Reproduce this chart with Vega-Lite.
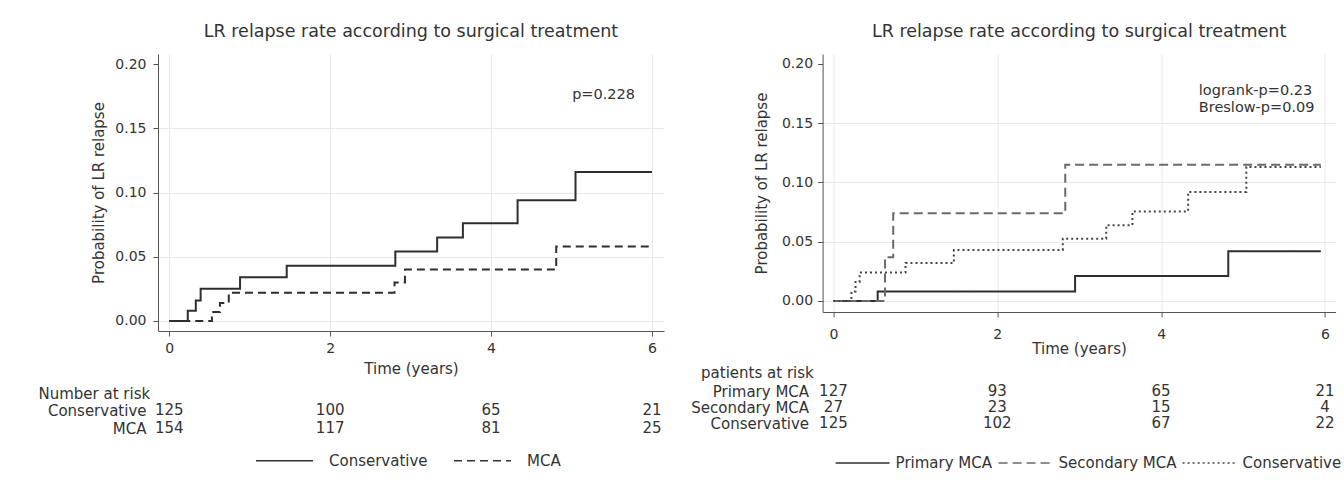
{
  "$schema": "https://vega.github.io/schema/vega-lite/v6.json",
  "background": "white",
  "padding": {"left": 38, "top": 22, "right": 5, "bottom": 5},
  "config": {
    "font": "DejaVu Sans",
    "view": {"stroke": null},
    "axis": {
      "labelColor": "#333333",
      "titleColor": "#333333",
      "domainColor": "#555555",
      "tickColor": "#555555",
      "labelFontSize": 14,
      "titleFontSize": 15,
      "titleFontWeight": "normal",
      "gridColor": "#e8e8e8",
      "tickSize": 5
    },
    "title": {"fontSize": 17.5, "fontWeight": "normal", "color": "#333333"},
    "legend": {"labelColor": "#333333", "labelFontSize": 15}
  },
  "datasets": {
    "left_curves": [
      {"group": "Conservative", "time": 0, "prob": 0},
      {"group": "Conservative", "time": 0.23, "prob": 0.008},
      {"group": "Conservative", "time": 0.33, "prob": 0.016},
      {"group": "Conservative", "time": 0.39, "prob": 0.025},
      {"group": "Conservative", "time": 0.88, "prob": 0.034},
      {"group": "Conservative", "time": 1.46, "prob": 0.043},
      {"group": "Conservative", "time": 2.81, "prob": 0.054},
      {"group": "Conservative", "time": 3.33, "prob": 0.065},
      {"group": "Conservative", "time": 3.65, "prob": 0.076},
      {"group": "Conservative", "time": 4.33, "prob": 0.094},
      {"group": "Conservative", "time": 5.05, "prob": 0.116},
      {"group": "Conservative", "time": 6.0, "prob": 0.116},
      {"group": "MCA", "time": 0, "prob": 0},
      {"group": "MCA", "time": 0.53, "prob": 0.007},
      {"group": "MCA", "time": 0.63, "prob": 0.014},
      {"group": "MCA", "time": 0.74, "prob": 0.022},
      {"group": "MCA", "time": 2.8, "prob": 0.03},
      {"group": "MCA", "time": 2.93, "prob": 0.04},
      {"group": "MCA", "time": 4.81, "prob": 0.058},
      {"group": "MCA", "time": 5.97, "prob": 0.058}
    ],
    "left_risk": [
      {"group": "Conservative", "time": 0, "n": 125},
      {"group": "Conservative", "time": 2, "n": 100},
      {"group": "Conservative", "time": 4, "n": 65},
      {"group": "Conservative", "time": 6, "n": 21},
      {"group": "MCA", "time": 0, "n": 154},
      {"group": "MCA", "time": 2, "n": 117},
      {"group": "MCA", "time": 4, "n": 81},
      {"group": "MCA", "time": 6, "n": 25}
    ],
    "left_notes": [
      {"time": 5.79, "prob": 0.176, "label": "p=0.228"}
    ],
    "right_curves": [
      {"group": "Primary MCA", "time": 0, "prob": 0},
      {"group": "Primary MCA", "time": 0.54, "prob": 0.008},
      {"group": "Primary MCA", "time": 2.95, "prob": 0.021},
      {"group": "Primary MCA", "time": 4.82, "prob": 0.042},
      {"group": "Primary MCA", "time": 5.95, "prob": 0.042},
      {"group": "Secondary MCA", "time": 0, "prob": 0},
      {"group": "Secondary MCA", "time": 0.63, "prob": 0.037},
      {"group": "Secondary MCA", "time": 0.73, "prob": 0.074},
      {"group": "Secondary MCA", "time": 2.83, "prob": 0.115},
      {"group": "Secondary MCA", "time": 5.95, "prob": 0.115},
      {"group": "Conservative", "time": 0, "prob": 0},
      {"group": "Conservative", "time": 0.22, "prob": 0.008},
      {"group": "Conservative", "time": 0.27, "prob": 0.016},
      {"group": "Conservative", "time": 0.32, "prob": 0.024},
      {"group": "Conservative", "time": 0.88, "prob": 0.032},
      {"group": "Conservative", "time": 1.47, "prob": 0.043},
      {"group": "Conservative", "time": 2.8, "prob": 0.0525},
      {"group": "Conservative", "time": 3.33, "prob": 0.064},
      {"group": "Conservative", "time": 3.65, "prob": 0.0756},
      {"group": "Conservative", "time": 4.33, "prob": 0.092},
      {"group": "Conservative", "time": 5.04, "prob": 0.113},
      {"group": "Conservative", "time": 5.95, "prob": 0.113}
    ],
    "right_risk": [
      {"group": "Primary MCA", "time": 0, "n": 127},
      {"group": "Primary MCA", "time": 2, "n": 93},
      {"group": "Primary MCA", "time": 4, "n": 65},
      {"group": "Primary MCA", "time": 6, "n": 21},
      {"group": "Secondary MCA", "time": 0, "n": 27},
      {"group": "Secondary MCA", "time": 2, "n": 23},
      {"group": "Secondary MCA", "time": 4, "n": 15},
      {"group": "Secondary MCA", "time": 6, "n": 4},
      {"group": "Conservative", "time": 0, "n": 125},
      {"group": "Conservative", "time": 2, "n": 102},
      {"group": "Conservative", "time": 4, "n": 67},
      {"group": "Conservative", "time": 6, "n": 22}
    ],
    "right_notes": [
      {"time": 4.46, "prob": 0.1775, "label": "logrank-p=0.23"},
      {"time": 4.46, "prob": 0.163, "label": "Breslow-p=0.09"}
    ]
  },
  "hconcat": [
    {
      "vconcat": [
        {
          "width": 506,
          "height": 277,
          "title": {"text": "LR relapse rate according to surgical treatment", "offset": 14},
          "layer": [
            {
              "data": {"name": "left_curves"},
              "mark": {"type": "line", "interpolate": "step-after", "strokeWidth": 2, "color": "#2e2e2e"},
              "encoding": {
                "x": {
                  "field": "time", "type": "quantitative",
                  "scale": {"domain": [-0.14, 6.15], "nice": false, "zero": false},
                  "axis": {"values": [0, 2, 4, 6], "format": "d", "title": "Time (years)", "labelPadding": 5, "titlePadding": 6}
                },
                "y": {
                  "field": "prob", "type": "quantitative",
                  "scale": {"domain": [-0.0078, 0.2078], "nice": false, "zero": false},
                  "axis": {
                    "values": [0, 0.05, 0.1, 0.15, 0.2], "format": ".2f",
                    "title": "Probability of LR relapse", "labelPadding": 7, "titlePadding": 8,
                    "grid": true,
                    "gridOpacity": {"condition": {"test": "datum.value > 0.19", "value": 0}, "value": 1}
                  }
                },
                "strokeDash": {
                  "field": "group", "type": "nominal",
                  "scale": {"domain": ["Conservative", "MCA"], "range": [[1, 0], [8, 5]]},
                  "legend": {
                    "orient": "none", "legendX": 97, "legendY": 377, "direction": "horizontal",
                    "title": null, "symbolType": "stroke", "symbolSize": 3249,
                    "symbolStrokeWidth": 1.6, "symbolStrokeColor": "#333333",
                    "labelOffset": 15, "columnPadding": 22
                  }
                }
              }
            },
            {
              "data": {"name": "left_notes"},
              "mark": {"type": "text", "align": "right", "baseline": "middle", "fontSize": 14.5, "color": "#333333"},
              "encoding": {
                "x": {"field": "time", "type": "quantitative"},
                "y": {"field": "prob", "type": "quantitative"},
                "text": {"field": "label"}
              }
            }
          ]
        },
        {
          "width": 506,
          "height": 36,
          "data": {"name": "left_risk"},
          "mark": {"type": "text", "fontSize": 15, "color": "#333333", "baseline": "middle"},
          "encoding": {
            "x": {
              "field": "time", "type": "quantitative",
              "scale": {"domain": [-0.14, 6.15], "nice": false, "zero": false},
              "axis": null
            },
            "y": {
              "field": "group", "type": "nominal",
              "sort": ["Conservative", "MCA"],
              "scale": {"type": "point", "padding": 0.5},
              "axis": {
                "title": "Number at risk", "titleAngle": 0, "titleAlign": "left", "titleBaseline": "middle",
                "titleX": -120, "titleY": -8, "titleFontSize": 15,
                "labelFontSize": 15, "domain": false, "ticks": false, "labelPadding": 12
              }
            },
            "text": {"field": "n", "type": "quantitative"}
          }
        }
      ],
      "spacing": 70,
      "bounds": "flush",
      "resolve": {"scale": {"strokeDash": "independent"}, "legend": {"strokeDash": "independent"}}
    },
    {
      "vconcat": [
        {
          "width": 513,
          "height": 258,
          "title": {"text": "LR relapse rate according to surgical treatment", "offset": 14},
          "layer": [
            {
              "data": {"name": "right_curves"},
              "mark": {"type": "line", "interpolate": "step-after", "strokeWidth": 2},
              "encoding": {
                "x": {
                  "field": "time", "type": "quantitative",
                  "scale": {"domain": [-0.132, 6.13], "nice": false, "zero": false},
                  "axis": {"values": [0, 2, 4, 6], "format": "d", "title": "Time (years)", "labelPadding": 10, "titlePadding": 0}
                },
                "y": {
                  "field": "prob", "type": "quantitative",
                  "scale": {"domain": [-0.0093, 0.2084], "nice": false, "zero": false},
                  "axis": {
                    "values": [0, 0.05, 0.1, 0.15, 0.2], "format": ".2f",
                    "title": "Probability of LR relapse", "labelPadding": 5, "titlePadding": 12,
                    "grid": true,
                    "gridOpacity": {"condition": {"test": "datum.value > 0.19", "value": 0}, "value": 1}
                  }
                },
                "stroke": {
                  "field": "group", "type": "nominal",
                  "scale": {"domain": ["Primary MCA", "Secondary MCA", "Conservative"], "range": ["#2e2e2e", "#6a6a6a", "#444444"]},
                  "legend": {
                    "orient": "none", "legendX": 12, "legendY": 381, "direction": "horizontal",
                    "title": null, "symbolType": "stroke", "symbolSize": 2916,
                    "symbolStrokeWidth": 1.6, "labelOffset": 5, "columnPadding": 2
                  }
                },
                "strokeDash": {
                  "field": "group", "type": "nominal",
                  "scale": {"domain": ["Primary MCA", "Secondary MCA", "Conservative"], "range": [[1, 0], [9, 5], [2, 3]]},
                  "legend": {
                    "orient": "none", "legendX": 12, "legendY": 381, "direction": "horizontal",
                    "title": null, "symbolType": "stroke", "symbolSize": 2916,
                    "symbolStrokeWidth": 1.6, "labelOffset": 5, "columnPadding": 2
                  }
                }
              }
            },
            {
              "data": {"name": "right_notes"},
              "mark": {"type": "text", "align": "left", "baseline": "middle", "fontSize": 14.5, "color": "#333333"},
              "encoding": {
                "x": {"field": "time", "type": "quantitative"},
                "y": {"field": "prob", "type": "quantitative"},
                "text": {"field": "label"}
              }
            }
          ]
        },
        {
          "width": 513,
          "height": 48,
          "data": {"name": "right_risk"},
          "mark": {"type": "text", "fontSize": 15, "color": "#333333", "baseline": "middle"},
          "encoding": {
            "x": {
              "field": "time", "type": "quantitative",
              "scale": {"domain": [-0.132, 6.13], "nice": false, "zero": false},
              "axis": null
            },
            "y": {
              "field": "group", "type": "nominal",
              "sort": ["Primary MCA", "Secondary MCA", "Conservative"],
              "scale": {"type": "point", "padding": 0.5},
              "axis": {
                "title": "patients at risk", "titleAngle": 0, "titleAlign": "left", "titleBaseline": "middle",
                "titleX": -122, "titleY": -11, "titleFontSize": 15,
                "labelFontSize": 15, "domain": false, "ticks": false, "labelPadding": 14
              }
            },
            "text": {"field": "n", "type": "quantitative"}
          }
        }
      ],
      "spacing": 71,
      "bounds": "flush",
      "resolve": {"scale": {"strokeDash": "independent", "stroke": "independent"}, "legend": {"strokeDash": "independent", "stroke": "independent"}}
    }
  ],
  "spacing": 664.6,
  "bounds": "flush",
  "resolve": {
    "scale": {"strokeDash": "independent", "stroke": "independent"},
    "legend": {"strokeDash": "independent", "stroke": "independent"}
  }
}
